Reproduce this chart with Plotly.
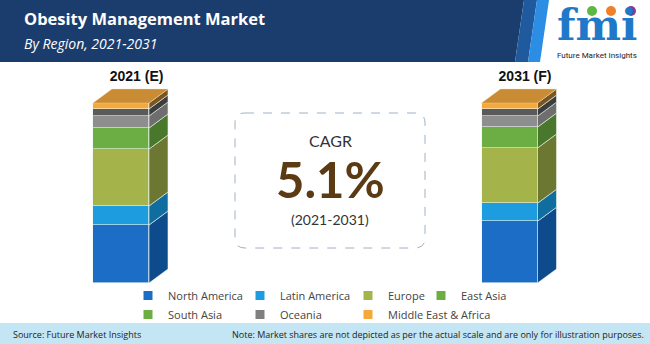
import plotly.graph_objects as go

W, H = 650, 344

# ---- data -------------------------------------------------------------
years = ["2021 (E)", "2031 (F)"]
regions = ["North America", "Latin America", "Europe", "East Asia",
           "South Asia", "Oceania", "Middle East & Africa"]
share_2021 = [32.2, 10.6, 31.6, 11.7, 6.7, 3.9, 3.3]
share_2031 = [34.3, 10.0, 30.7, 11.6, 6.1, 3.9, 3.4]

# ---- styling ----------------------------------------------------------
front_colors = ["#1b6dc6", "#1d9de0", "#a4b44a", "#6cae44",
                "#8e8e8e", "#5a5a5a", "#f4a93a"]
side_colors = ["#0e4b8d", "#0f6e9f", "#6c7832", "#49782c",
               "#6e6e6e", "#3d3d3d", "#7a5522"]
legend_colors = ["#1b6dc6", "#1d9de0", "#a4b44a", "#6cae44",
                 "#6cae44", "#7f7f7f", "#f4a93a"]
top_color = "#c98b33"
sep_line = "rgba(235,245,235,0.75)"

# plot-area geometry (pixels) used to build the axis ranges
PX_PER_X = 388.5          # pixels per unit on x
X0_PIX = 121.0            # pixel of x = 0
Y_BOTTOM_PIX, Y_TOP_PIX = 283.0, 85.0
PX_PER_Y = 1.8            # pixels per percentage point
bar_w = 56 / PX_PER_X
depth_x = 19 / PX_PER_X
depth_y = 14 / PX_PER_Y

x_pos = [0, 1]
x_range = [-X0_PIX / PX_PER_X, (W - X0_PIX) / PX_PER_X]
y_range = [0, (Y_BOTTOM_PIX - Y_TOP_PIX) / PX_PER_Y]


def px(x):
    return x / W


def py(y):
    return 1 - y / H


def path(points):
    return "M" + " L".join(f"{px(a):.5f},{py(b):.5f}" for a, b in points) + " Z"


fig = go.Figure()

# front faces of the stacked bars
for i, name in enumerate(regions):
    fig.add_trace(go.Bar(
        x=x_pos, y=[share_2021[i], share_2031[i]], width=bar_w,
        marker=dict(color=front_colors[i], line=dict(color=sep_line, width=0.8)),
        name=name, showlegend=False, hoverinfo="skip"))

# side faces (and the lid) computed from the cumulative shares
series = [share_2021, share_2031]
for i, name in enumerate(regions):
    xs, ys = [], []
    for k, vals in enumerate(series):
        y0 = sum(vals[:i])
        y1 = y0 + vals[i]
        xr = x_pos[k] + bar_w / 2
        xs += [xr, xr + depth_x, xr + depth_x, xr, xr, None]
        ys += [y0, y0 + depth_y, y1 + depth_y, y1, y0, None]
    fig.add_trace(go.Scatter(
        x=xs, y=ys, mode="lines", fill="toself", fillcolor=side_colors[i],
        line=dict(color=sep_line, width=0.8), showlegend=False, hoverinfo="skip"))

xs, ys = [], []
for k, vals in enumerate(series):
    t = sum(vals)
    xl, xr = x_pos[k] - bar_w / 2, x_pos[k] + bar_w / 2
    xs += [xl, xl + depth_x, xr + depth_x, xr, xl, None]
    ys += [t, t + depth_y, t + depth_y, t, t, None]
fig.add_trace(go.Scatter(
    x=xs, y=ys, mode="lines", fill="toself", fillcolor=top_color,
    line=dict(color="rgba(255,220,160,0.6)", width=0.6),
    showlegend=False, hoverinfo="skip"))

# legend entries, laid out as four columns
legend_cols = ["legend", "legend2", "legend3", "legend4",
               "legend", "legend2", "legend3"]
for i, name in enumerate(regions):
    fig.add_trace(go.Scatter(
        x=[None], y=[None], mode="markers", name=name,
        marker=dict(symbol="square", size=9, color=legend_colors[i]),
        legend=legend_cols[i]))

legend_font = dict(family="Open Sans", size=11, color="#444444")
legend_text_x = [168, 280, 388, 461]
legend_common = dict(orientation="v", xanchor="left", yanchor="top",
                     y=py(281), bgcolor="rgba(0,0,0,0)", font=legend_font,
                     traceorder="normal", tracegroupgap=0,
                     itemclick=False, itemdoubleclick=False)

shapes = [
    # header band
    dict(type="path", path=path([(0, 0), (524, 0), (515, 62), (0, 62)]),
         fillcolor="#1b3d6e", line=dict(width=0), layer="below"),
    dict(type="path", path=path([(524, 0), (537, 0), (528, 62), (515, 62)]),
         fillcolor="#1f5a9f", line=dict(width=0), layer="below"),
    dict(type="path", path=path([(537, 0), (549, 0), (540, 62), (528, 62)]),
         fillcolor="#2b8de4", line=dict(width=0), layer="below"),
    # footer band
    dict(type="rect", xref="paper", yref="paper", x0=0, x1=1,
         y0=py(344), y1=py(323), fillcolor="#c4e5f3", line=dict(width=0),
         layer="below"),
]

# rounded dashed CAGR box
bx0, bx1, by0, by1, r = 235, 425, 113, 248, 10
box = (f"M{px(bx0 + r)},{py(by0)} L{px(bx1 - r)},{py(by0)} "
       f"Q{px(bx1)},{py(by0)} {px(bx1)},{py(by0 + r)} "
       f"L{px(bx1)},{py(by1 - r)} Q{px(bx1)},{py(by1)} {px(bx1 - r)},{py(by1)} "
       f"L{px(bx0 + r)},{py(by1)} Q{px(bx0)},{py(by1)} {px(bx0)},{py(by1 - r)} "
       f"L{px(bx0)},{py(by0 + r)} Q{px(bx0)},{py(by0)} {px(bx0 + r)},{py(by0)} Z")
shapes.append(dict(type="path", path=box, xref="paper", yref="paper",
                   line=dict(color="#9fb2c6", width=1, dash="dash"), layer="below"))

# logo dots
for cx, col in [(592, "#5db744"), (611, "#f07f2a"), (631, "#8b3a98")]:
    shapes.append(dict(type="circle", xref="paper", yref="paper",
                       x0=px(cx - 5), x1=px(cx + 5), y0=py(16), y1=py(6),
                       fillcolor=col, line=dict(width=0)))
for s in shapes:
    s.setdefault("xref", "paper")
    s.setdefault("yref", "paper")


def note(text, x, y, size, color, family="Open Sans", xanchor="left", **kw):
    return dict(text=text, x=px(x), y=py(y), xref="paper", yref="paper",
                xanchor=xanchor, yanchor="middle", showarrow=False,
                font=dict(family=family, size=size, color=color), **kw)


annotations = [
    note("<b>Obesity Management Market</b>", 22, 19, 16.5, "white"),
    note("<i>By Region, 2021-2031</i>", 22, 43, 14, "white"),
    note("<b>fmi</b>", 597, 25, 43, "#1f78c8", family="DejaVu Serif",
         xanchor="center"),
    note("Future Market Insights", 597, 55.5, 8, "#222222", family="Roboto",
         xanchor="center"),
    note("CAGR", 330, 140, 16, "#333333", family="Lato", xanchor="center"),
    note("<b>5.1%</b>", 330, 179, 49, "#5b3a14", family="Lato", xanchor="center"),
    note("(2021-2031)", 330, 219, 14, "#333333", family="Lato", xanchor="center"),
    note("Source: Future Market Insights", 11, 334, 9, "#222222"),
    note("Note: Market shares are not depicted as per the actual scale and are only "
         "for illustration purposes.", 646, 334, 9, "#222222", xanchor="right"),
]

layout_legends = {}
for n, key in enumerate(["legend", "legend2", "legend3", "legend4"]):
    layout_legends[key] = dict(legend_common, x=px(legend_text_x[n] - 40))

fig.update_layout(
    width=W, height=H, margin=dict(l=0, r=0, t=0, b=0),
    paper_bgcolor="white", plot_bgcolor="rgba(0,0,0,0)",
    barmode="stack", bargap=0, showlegend=True,
    xaxis=dict(domain=[0, 1], range=x_range, side="top",
               tickvals=[p + 0.04 for p in x_pos],
               ticktext=[f"<b>{y}</b>" for y in years],
               tickfont=dict(family="Liberation Sans", size=14, color="#111111"),
               showgrid=False, zeroline=False, showline=False, ticks=""),
    yaxis=dict(domain=[py(Y_BOTTOM_PIX), py(Y_TOP_PIX)], range=y_range,
               visible=False, showgrid=False, zeroline=False),
    shapes=shapes, annotations=annotations,
    **layout_legends,
)

fig.write_html("out.html")
